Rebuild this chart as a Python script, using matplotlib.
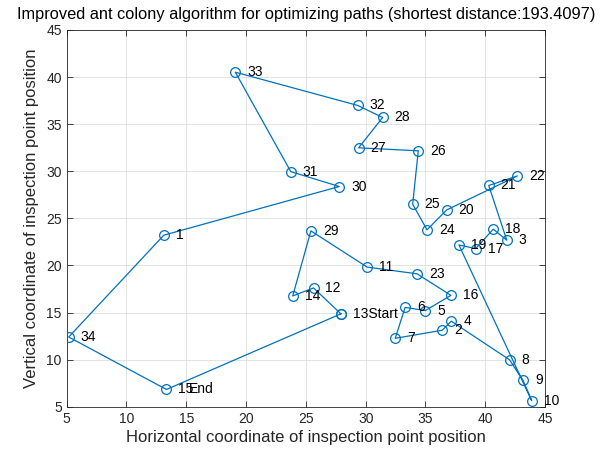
import matplotlib
matplotlib.use("Agg")
import matplotlib.pyplot as plt

plt.rcParams['font.family'] = ['Liberation Sans', 'DejaVu Sans']

# Node coordinates (node number 1..34)
node_x = [13.12, 36.40, 41.80, 37.16, 34.99, 33.30, 32.47, 42.04, 43.16, 43.88,
          30.13, 25.64, 27.93, 23.90, 13.34, 37.13, 39.20, 40.67, 37.80, 36.77,
          40.29, 42.68, 34.30, 35.13, 33.93, 34.40, 29.41, 31.42, 25.42, 27.79,
          23.74, 29.33, 19.10, 5.17]
node_y = [23.21, 13.12, 22.68, 14.08, 15.21, 15.54, 12.26, 9.97, 7.79, 5.65,
          19.82, 17.61, 14.86, 16.76, 6.83, 16.82, 21.79, 23.85, 22.17, 25.89,
          28.49, 29.50, 19.11, 23.78, 26.50, 32.17, 32.49, 35.71, 23.67, 28.38,
          29.96, 36.99, 40.52, 12.40]

# Best route (node numbers), start at 13, end at 15
route = [13, 12, 14, 29, 11, 23, 16, 5, 6, 7, 2, 4, 8, 9, 10, 19, 17, 18, 3,
         21, 22, 20, 24, 25, 26, 27, 28, 32, 33, 31, 30, 1, 34, 15]

title = "Improved ant colony algorithm for optimizing paths (shortest distance:193.4097)"
xlabel = "Horizontal coordinate of inspection point position"
ylabel = "Vertical coordinate of inspection point position"

blue = (0, 0.447, 0.741)
axc = (0.15, 0.15, 0.15)

fig = plt.figure(figsize=(6.09, 4.53), dpi=100)
ax = fig.add_axes([0.1095, 0.1022, 0.7855, 0.8316])

px = [node_x[n - 1] for n in route] + [node_x[route[0] - 1]]
py = [node_y[n - 1] for n in route] + [node_y[route[0] - 1]]
ax.plot(px, py, '-o', color=blue, lw=0.9, markersize=7, markerfacecolor='none',
        markeredgewidth=0.9, zorder=3)

for i in range(len(node_x)):
    n = i + 1
    if n == route[0]:
        ax.text(node_x[i] + 1, node_y[i], str(n) + "Start", fontsize=10,
                va='center', ha='left', color='black', zorder=4)
        continue
    ax.text(node_x[i] + 1, node_y[i], str(n), fontsize=10, va='center', ha='left',
            color='black', zorder=4)
    if n == route[-1]:
        ax.text(node_x[i] + 1.85, node_y[i], "End", fontsize=10, va='center',
                ha='left', color='black', zorder=4)

ax.set_xlim(5, 45)
ax.set_ylim(5, 45)
ax.set_xticks(range(5, 46, 5))
ax.set_yticks(range(5, 46, 5))
ax.grid(True, color=(0.87, 0.87, 0.87), lw=0.6)
ax.set_axisbelow(True)
ax.tick_params(direction='in', top=True, right=True, length=4, width=0.6,
               colors=axc, labelsize=10, labelcolor=axc)
for s in ax.spines.values():
    s.set_color(axc)
    s.set_linewidth(0.6)

ax.set_title(title, fontsize=11.8, color='black', pad=8)
ax.set_xlabel(xlabel, fontsize=12, color=axc, labelpad=3)
ax.set_ylabel(ylabel, fontsize=12, color=axc, labelpad=5)

fig.savefig("out.png", dpi=100)
